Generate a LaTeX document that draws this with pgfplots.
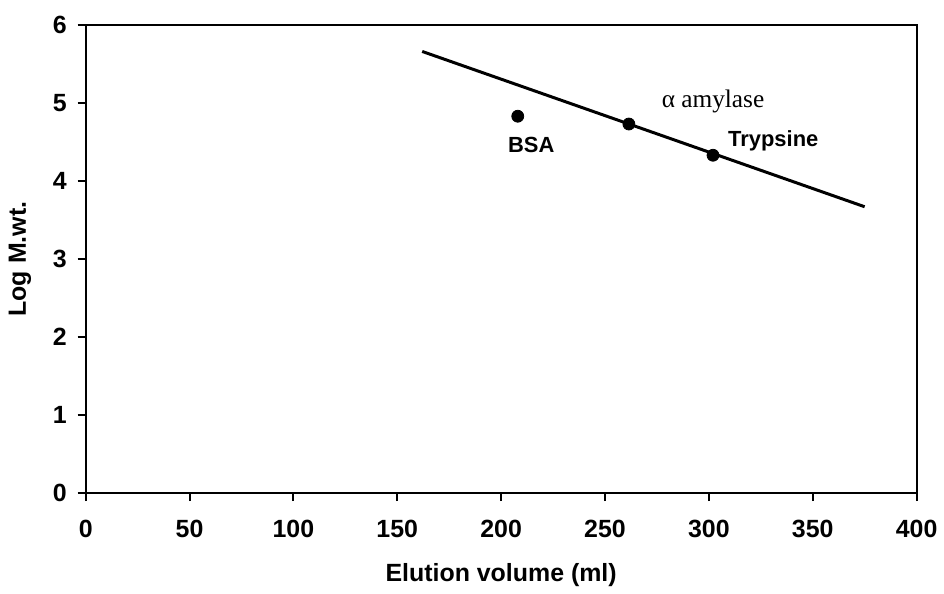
\documentclass[border=0pt]{standalone}
\usepackage{pgfplots}
\pgfplotsset{compat=1.18}
\usepackage{fontspec}
\setmainfont{Liberation Sans}
\newfontfamily\serifrm{Liberation Serif}
\usetikzlibrary{calc}

\begin{document}
\begin{tikzpicture}
\begin{axis}[
    name=ax,
    scale only axis,
    width=417pt, height=235pt,
    xmin=0, xmax=400, ymin=0, ymax=6,
    xtick distance=50, ytick distance=1,
    axis line style={line width=1pt},
    tick style={line width=1pt, black},
    tick align=outside,
    major tick length=4pt,
    xtick pos=bottom, ytick pos=left,
    /pgf/number format/assume math mode=true,
    ticklabel style={font=\fontsize{12.5}{14}\selectfont\bfseries},
    xticklabel style={yshift=-6pt},
    yticklabel style={xshift=-2pt},
    xlabel={Elution volume (ml)},
    ylabel={Log M.wt.},
    label style={font=\fontsize{12.5}{14}\selectfont\bfseries},
    xlabel style={yshift=-6pt},
    ylabel style={yshift=4pt},
    clip=false,
]
% fitted line
\addplot[black, line width=1.5pt] coordinates {(162,5.66) (375,3.67)};
% standards
\addplot[only marks, mark=*, mark size=3pt, black] coordinates {
    (208,4.83) (261.5,4.73) (302,4.33)
};
\node[font=\fontsize{11}{13}\selectfont\bfseries] at (axis cs:214.5,4.46) {BSA};
\node[font=\serifrm\fontsize{12.7}{15}\selectfont] at (axis cs:302,5.02) {α amylase};
\node[font=\fontsize{11}{13}\selectfont\bfseries] at (axis cs:331,4.52) {Trypsine};
\end{axis}
\path ($(ax.south west)+(-43pt,-48.5pt)$) rectangle ($(ax.north east)+(12pt,12.5pt)$);
\end{tikzpicture}
\end{document}
